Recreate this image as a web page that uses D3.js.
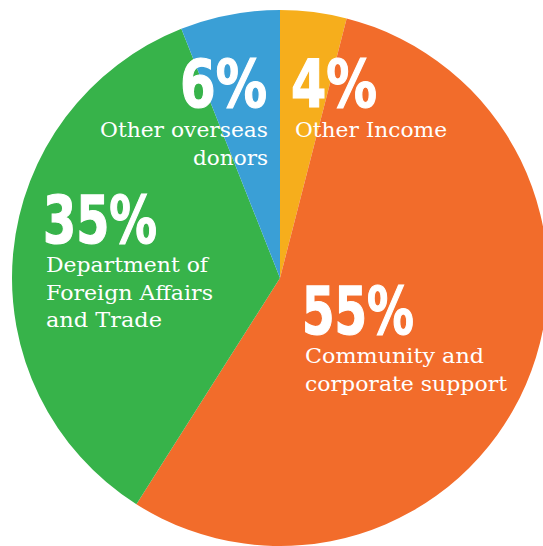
<!DOCTYPE html>
<html>
<head>
<meta charset="utf-8">
<script src="https://cdn.jsdelivr.net/npm/d3@7"></script>
<style>
  html, body { margin: 0; padding: 0; background: #fff; }
  svg { display: block; }
  .pct { font-family: "Liberation Sans Narrow", "DejaVu Sans Condensed", "Roboto", sans-serif; font-weight: bold; fill: #fff; stroke: #fff; stroke-width: 1.2px; }
  .lbl { font-family: "DejaVu Serif", "Noto Serif", serif; fill: #fff; }
</style>
</head>
<body>
<svg class="canvas" width="543" height="546"></svg>
<script>
// data, clockwise from 12 o'clock
var categories = ['Other Income', 'Community and corporate support', 'Department of Foreign Affairs and Trade', 'Other overseas donors'];
var shares = [4, 55, 35, 6];
var pctLabels = ['4%', '55%', '35%', '6%'];
var labelLines = [
    ['Other Income'],
    ['Community and', 'corporate support'],
    ['Department of', 'Foreign Affairs', 'and Trade'],
    ['Other overseas', 'donors']
];
var colors = ['#F6AE1C', '#F26C2B', '#37B34A', '#3A9FD6'];

// label placement (anchor x, pct baseline, pct width, first label baseline, label widths)
var layout = [
    {x: 291, anchor: 'start', pctY: 107, pctW: 86, lblX: 295, lblY: 137, widths: [152]},
    {x: 302, anchor: 'start', pctY: 334, pctW: 112, lblX: 305, lblY: 363, widths: [179, 202]},
    {x: 43, anchor: 'start', pctY: 243, pctW: 114, lblX: 46, lblY: 272, widths: [162, 167, 116]},
    {x: 267, anchor: 'end', pctY: 107, pctW: 87, lblX: 268, lblY: 137, widths: [168, 75]}
];

var cx = 280, cy = 278, radius = 268;
var svg = d3.select('.canvas');
var g = svg.append('g').attr('transform', 'translate(' + cx + ',' + cy + ')');

var pie = d3.pie().sort(null).value(d => d);
var arc = d3.arc().innerRadius(0).outerRadius(radius);

g.selectAll('path.slice')
    .data(pie(shares))
    .enter().append('path')
    .classed('slice', true)
    .attr('d', arc)
    .attr('fill', (d, i) => colors[i]);

// labels
categories.forEach(function(c, i){
    var L = layout[i];
    // textLength with end anchor is unreliable, so shift start manually
    svg.append('text')
        .classed('pct', true)
        .attr('x', L.anchor === 'end' ? L.x - L.pctW : L.x)
        .attr('y', L.pctY)
        .attr('font-size', 65)
        .attr('textLength', L.pctW)
        .attr('lengthAdjust', 'spacingAndGlyphs')
        .text(pctLabels[i]);

    labelLines[i].forEach(function(line, j){
        var w = L.widths[j];
        svg.append('text')
            .classed('lbl', true)
            .attr('x', L.anchor === 'end' ? L.lblX - w : L.lblX)
            .attr('y', L.lblY + j * 27.5)
            .attr('font-size', 21)
            .attr('textLength', w)
            .attr('lengthAdjust', 'spacingAndGlyphs')
            .text(line);
    });
});
</script>
</body>
</html>
